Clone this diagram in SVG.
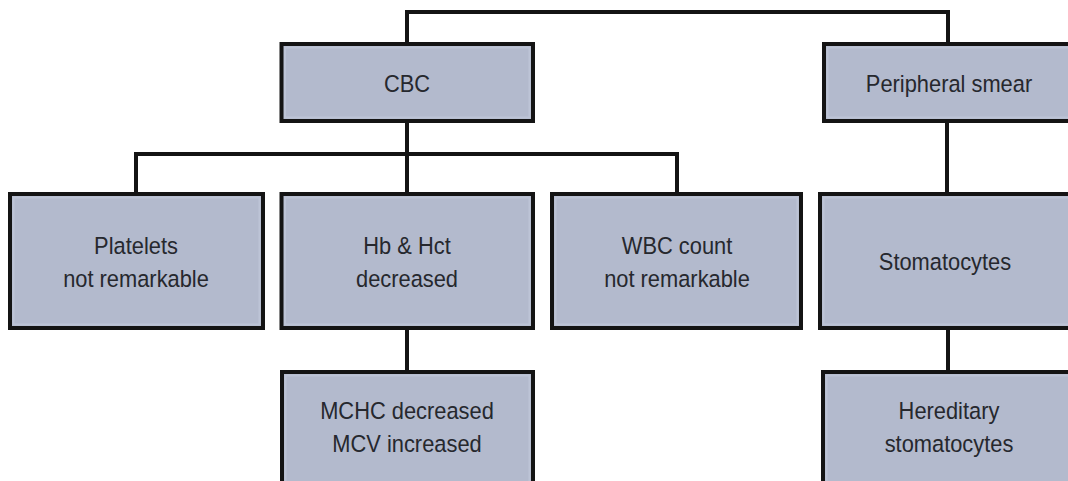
<svg xmlns="http://www.w3.org/2000/svg" width="1068" height="481" viewBox="0 0 1068 481">
  <style>
    .box { fill: #b3bacd; stroke: #141414; stroke-width: 4; }
    .inner { fill: none; stroke: #bdc4d6; stroke-width: 2; }
    .lbl { font-family: "Liberation Sans", Arial, sans-serif; font-size: 23.5px; fill: #26282e; text-anchor: middle; }
    .wire { fill: none; stroke: #141414; stroke-width: 4; stroke-linejoin: miter; stroke-linecap: square; }
  </style>
  <rect width="1068" height="481" fill="#ffffff"/>

  <!-- connectors -->
  <g id="connectors">
    <path class="wire" d="M407 42 V12 H948 V42"/>
    <path class="wire" d="M407 123 V154 M136 192 V154 H677 V192 M407 154 V192"/>
    <path class="wire" d="M947 123 V192"/>
    <path class="wire" d="M407 330 V370"/>
    <path class="wire" d="M948 330 V370"/>
  </g>

  <!-- labels use a slightly narrowed face: translate to anchor, then scale x -->
  <g id="cbc">
    <rect class="box" x="281.5" y="44" width="251.5" height="77"/>
    <rect class="inner" x="285" y="47.5" width="244.5" height="70"/>
    <text class="lbl" transform="translate(407 92) scale(0.93 1)">CBC</text>
  </g>

  <g id="peripheral-smear">
    <rect class="box" x="824" y="44" width="260" height="77"/>
    <rect class="inner" x="827.5" y="47.5" width="260" height="70"/>
    <text class="lbl" transform="translate(949 92) scale(0.93 1)">Peripheral smear</text>
  </g>

  <g id="platelets">
    <rect class="box" x="10" y="194" width="253" height="134"/>
    <rect class="inner" x="13.5" y="197.5" width="246" height="127"/>
    <text class="lbl" transform="translate(136 254) scale(0.93 1)">Platelets</text>
    <text class="lbl" transform="translate(136 287) scale(0.93 1)">not remarkable</text>
  </g>

  <g id="hb-hct">
    <rect class="box" x="281.5" y="194" width="251.5" height="134"/>
    <rect class="inner" x="285" y="197.5" width="244.5" height="127"/>
    <text class="lbl" transform="translate(407 254) scale(0.93 1)">Hb &amp; Hct</text>
    <text class="lbl" transform="translate(407 287) scale(0.93 1)">decreased</text>
  </g>

  <g id="wbc">
    <rect class="box" x="552" y="194" width="249" height="134"/>
    <rect class="inner" x="555.5" y="197.5" width="242" height="127"/>
    <text class="lbl" transform="translate(677 254) scale(0.93 1)">WBC count</text>
    <text class="lbl" transform="translate(677 287) scale(0.93 1)">not remarkable</text>
  </g>

  <g id="stomatocytes">
    <rect class="box" x="820" y="194" width="264" height="134"/>
    <rect class="inner" x="823.5" y="197.5" width="264" height="127"/>
    <text class="lbl" transform="translate(945 270) scale(0.93 1)">Stomatocytes</text>
  </g>

  <g id="mchc-mcv">
    <rect class="box" x="282" y="372" width="251" height="130"/>
    <rect class="inner" x="285.5" y="375.5" width="244" height="130"/>
    <text class="lbl" transform="translate(407 419) scale(0.93 1)">MCHC decreased</text>
    <text class="lbl" transform="translate(407 452) scale(0.93 1)">MCV increased</text>
  </g>

  <g id="hereditary">
    <rect class="box" x="823" y="372" width="260" height="130"/>
    <rect class="inner" x="826.5" y="375.5" width="260" height="130"/>
    <text class="lbl" transform="translate(949 419) scale(0.93 1)">Hereditary</text>
    <text class="lbl" transform="translate(949 452) scale(0.93 1)">stomatocytes</text>
  </g>
</svg>
